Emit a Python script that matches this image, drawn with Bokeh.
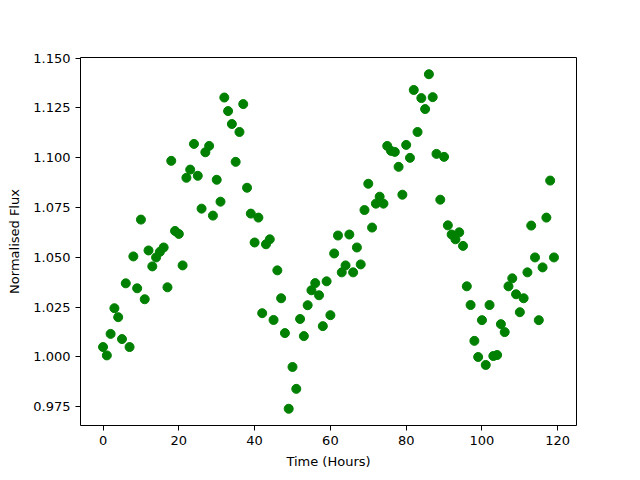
from bokeh.plotting import figure
from bokeh.models import Range1d, FixedTicker, NumeralTickFormatter, ColumnDataSource
from bokeh.embed import file_html
from bokeh.resources import INLINE

hours = list(range(120))
flux = [
    1.0049, 1.0007, 1.0115, 1.0244, 1.0199, 1.0089, 1.0369, 1.0049, 1.0504, 1.0344,
    1.0689, 1.0289, 1.0534, 1.0454, 1.0499, 1.0527, 1.0549, 1.0349, 1.0984, 1.0632,
    1.0617, 1.0459, 1.0899, 1.0940, 1.1069, 1.0909, 1.0744, 1.1027, 1.1059, 1.0709,
    1.0889, 1.0779, 1.1302, 1.1234, 1.1169, 1.0979, 1.1129, 1.1269, 1.0849, 1.0719,
    1.0574, 1.0699, 1.0219, 1.0565, 1.0590, 1.0185, 1.0434, 1.0294, 1.0119, 0.9739,
    0.9949, 0.9839, 1.0190, 1.0104, 1.0259, 1.0334, 1.0370, 1.0309, 1.0154, 1.0379,
    1.0209, 1.0519, 1.0609, 1.0424, 1.0459, 1.0614, 1.0424, 1.0549, 1.0464, 1.0737,
    1.0869, 1.0649, 1.0769, 1.0804, 1.0769, 1.1059, 1.1034, 1.1029, 1.0954, 1.0814,
    1.1064, 1.0999, 1.1340, 1.1129, 1.1299, 1.1244, 1.1419, 1.1304, 1.1019, 1.0789,
    1.1004, 1.0660, 1.0614, 1.0590, 1.0625, 1.0557, 1.0354, 1.0260, 1.0080, 0.9999,
    1.0184, 0.9959, 1.0260, 1.0004, 1.0009, 1.0164, 1.0124, 1.0354, 1.0394, 1.0314,
    1.0224, 1.0294, 1.0424, 1.0659, 1.0499, 1.0184, 1.0449, 1.0699, 1.0885, 1.0499,
]
x_ticks = [0, 20, 40, 60, 80, 100, 120]
y_ticks = [0.975, 1.000, 1.025, 1.050, 1.075, 1.100, 1.125, 1.150]
x_label = "Time (Hours)"
y_label = "Normalised Flux"

xpad = (max(hours) - min(hours)) * 0.05
ypad = (max(flux) - min(flux)) * 0.05

p = figure(
    width=624, height=471,
    min_border_left=80, min_border_right=48, min_border_top=57, min_border_bottom=45,
    output_backend="svg", toolbar_location=None,
    x_range=Range1d(min(hours) - xpad, max(hours) + xpad),
    y_range=Range1d(min(flux) - ypad, max(flux) + ypad),
)
src = ColumnDataSource(dict(x=hours, y=flux))
p.scatter("x", "y", source=src, size=9, fill_color="green", line_color="green", marker="circle")

p.grid.visible = False
p.outline_line_color = "black"
p.outline_line_alpha = 1
p.outline_line_width = 1
p.background_fill_color = "white"
p.border_fill_color = "white"

for ax in (p.xaxis[0], p.yaxis[0]):
    ax.minor_tick_line_color = None
    ax.major_tick_out = 5
    ax.major_tick_in = 0
    ax.major_label_text_font = "DejaVu Sans"
    ax.major_label_text_font_size = "13px"
    ax.major_label_text_color = "black"
    ax.axis_label_text_font = "DejaVu Sans"
    ax.axis_label_text_font_size = "13px"
    ax.axis_label_text_font_style = "normal"
    ax.axis_label_text_color = "black"
    ax.axis_line_color = None
    ax.major_tick_line_color = "black"

p.xaxis[0].ticker = FixedTicker(ticks=x_ticks)
p.yaxis[0].ticker = FixedTicker(ticks=y_ticks)
p.yaxis[0].formatter = NumeralTickFormatter(format="0.000")
p.xaxis[0].axis_label = x_label
p.yaxis[0].axis_label = y_label
p.xaxis[0].axis_label_standoff = 6
p.yaxis[0].axis_label_standoff = 8

open("out.html", "w").write(file_html(p, INLINE))
